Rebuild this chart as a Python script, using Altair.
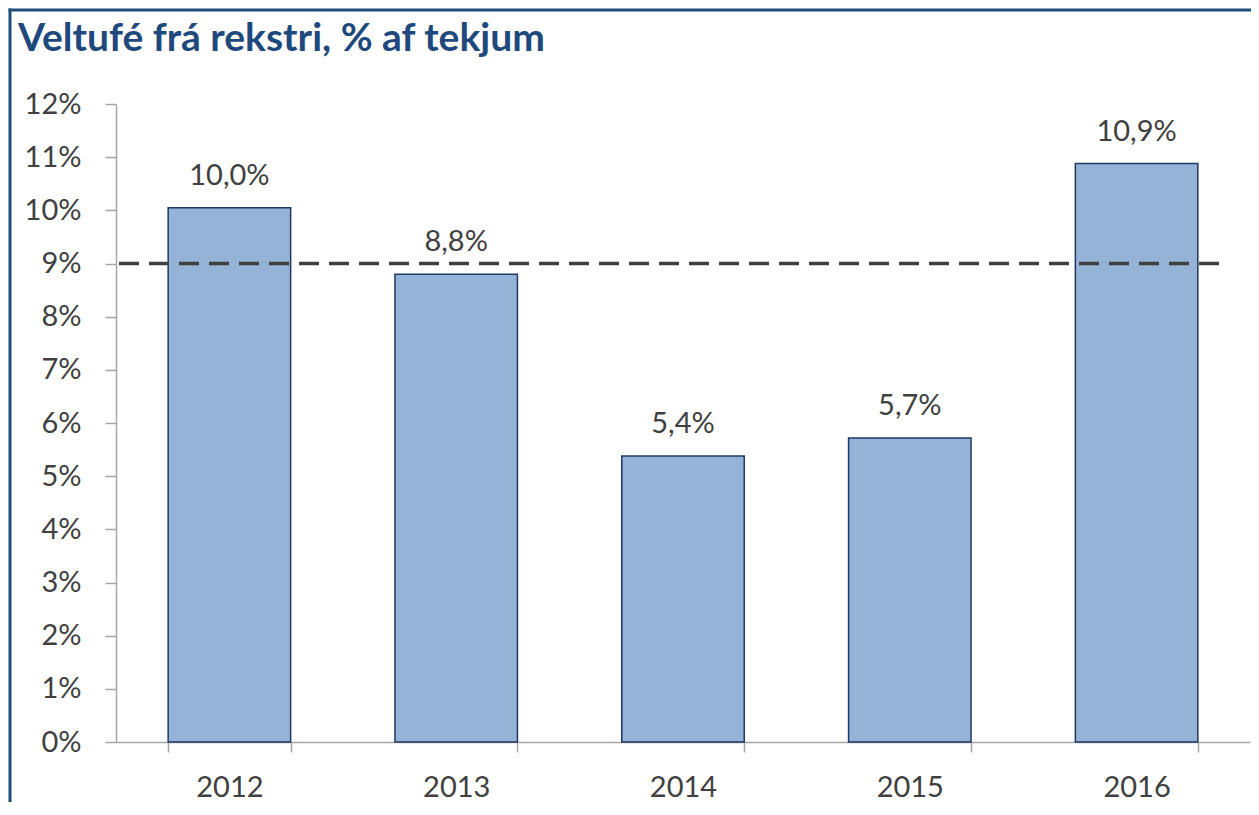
import altair as alt
import pandas as pd

years = ["2012", "2013", "2014", "2015", "2016"]
values = [10.05, 8.8, 5.38, 5.72, 10.88]
labels = ["10,0%", "8,8%", "5,4%", "5,7%", "10,9%"]
target = 9
title_text = "Veltufé frá rekstri, % af tekjum"

df = pd.DataFrame({"year": years, "value": values, "label": labels})

FONT = "Lato"
GREY = "#404040"

x = alt.X("year:N", title=None, sort=years,
          scale=alt.Scale(paddingInner=0.46, paddingOuter=0.23),
          axis=alt.Axis(labelAngle=0, labelFontSize=29, labelFont=FONT, labelColor=GREY,
                        labelPadding=21, tickSize=10, tickBand="extent",
                        domainColor="#A6A6A6", tickColor="#A6A6A6", domainWidth=1.5, tickWidth=1.5))

bars = alt.Chart(df).mark_bar(color="#95B3D7", stroke="#1F3864", strokeWidth=1.5).encode(
    x=x,
    y=alt.Y("value:Q", title=None,
            scale=alt.Scale(domain=[0, 12], nice=False),
            axis=alt.Axis(values=list(range(0, 13)), labelExpr="datum.value + '%'",
                          labelFontSize=29, labelFont=FONT, labelColor=GREY,
                          labelPadding=24, tickSize=11, grid=False,
                          domainColor="#A6A6A6", tickColor="#A6A6A6", domainWidth=1.5, tickWidth=1.5)),
)

text = alt.Chart(df).mark_text(baseline="bottom", dy=-17, fontSize=29, font=FONT, color=GREY).encode(
    x=alt.X("year:N", sort=years),
    y="value:Q",
    text="label:N",
)

rule = alt.Chart(pd.DataFrame({"t": [target]})).mark_rule(
    color="#404040", strokeWidth=3.5, strokeDash=[20, 10]
).encode(y="t:Q", x=alt.value(3), x2=alt.value(1110))

frame_left = alt.Chart(pd.DataFrame({"a": [0]})).mark_rule(color="#1F4E79", strokeWidth=3).encode(
    x=alt.value(-106), y=alt.value(-95.5), y2=alt.value(698))
frame_top = alt.Chart(pd.DataFrame({"a": [0]})).mark_rule(color="#1F4E79", strokeWidth=3).encode(
    x=alt.value(-107.5), x2=alt.value(1135), y=alt.value(-94))

title = alt.Chart(pd.DataFrame({"t": [title_text]})).mark_text(
    align="left", baseline="alphabetic", fontSize=39, font=FONT, fontWeight="bold", color="#1F497D"
).encode(x=alt.value(-98), y=alt.value(-53), text="t:N")

chart = alt.layer(bars, text, rule, frame_left, frame_top, title).properties(
    width=1134, height=638,
    autosize=alt.AutoSizeParams(type="none"),
    padding={"left": 108, "top": 96, "right": 1, "bottom": 60},
).configure_view(stroke=None)

chart.save("out.html", embed_options={"renderer": "svg", "actions": False})
